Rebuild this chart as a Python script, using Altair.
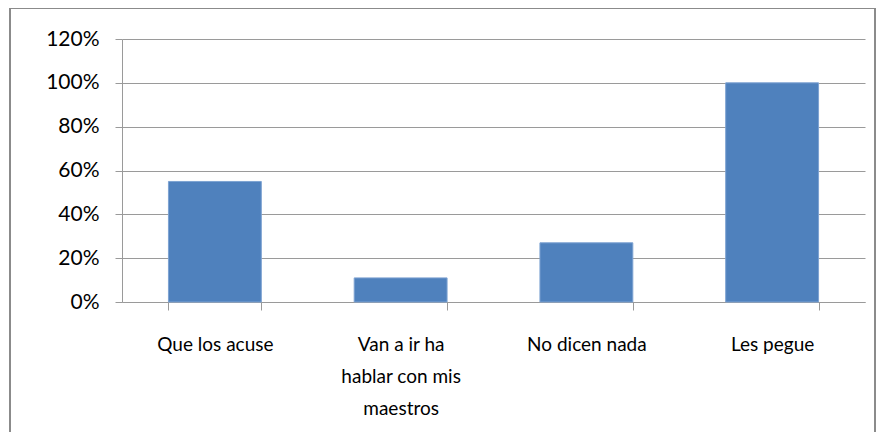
import altair as alt
import pandas as pd

categories = ["Que los acuse", "Van a ir ha\nhablar con mis\nmaestros", "No dicen nada", "Les pegue"]
values = [0.55, 0.11, 0.27, 1.00]
y_ticks = [0, 0.2, 0.4, 0.6, 0.8, 1.0, 1.2]

df = pd.DataFrame({"cat": categories, "val": values})

FONT = "Lato"
GRAY = "#9a9a9a"

bars = alt.Chart(df).mark_bar(color="#4F81BD", stroke="#7da2d2", strokeWidth=1).encode(
    x=alt.X(
        "cat:N",
        sort=categories,
        title=None,
        scale=alt.Scale(paddingInner=0.5, paddingOuter=0.25),
        axis=alt.Axis(
            labelAngle=0,
            labelExpr="split(datum.label, '\\n')",
            labelFont=FONT,
            labelFontSize=19,
            labelLineHeight=32,
            labelColor="#000000",
            labelPadding=25,
            tickBand="extent",
            tickSize=8,
            tickColor=GRAY,
            domainColor=GRAY,
            grid=False,
            labelLimit=300,
        ),
    ),
    y=alt.Y(
        "val:Q",
        title=None,
        scale=alt.Scale(domain=[0, 1.2], nice=False),
        axis=alt.Axis(
            values=y_ticks,
            format=".0%",
            labelFont=FONT,
            labelFontSize=21,
            labelColor="#000000",
            labelPadding=16,
            tickSize=7,
            tickColor=GRAY,
            domainColor=GRAY,
            gridColor=GRAY,
            gridWidth=1,
        ),
    ),
)

border = alt.Chart(df).mark_rect(fill=None, stroke="#8a8a8a", strokeWidth=1.5, clip=False).encode(
    x=alt.value(-112), x2=alt.value(753), y=alt.value(-31), y2=alt.value(460)
)

chart = alt.layer(bars, border).properties(
    width=743,
    height=263,
    autosize=alt.AutoSizeParams(type="none"),
    padding={"left": 114, "top": 31, "right": 11, "bottom": 130},
).configure_view(stroke=None)

chart.save("out.html", embed_options={"renderer": "svg", "actions": False})
